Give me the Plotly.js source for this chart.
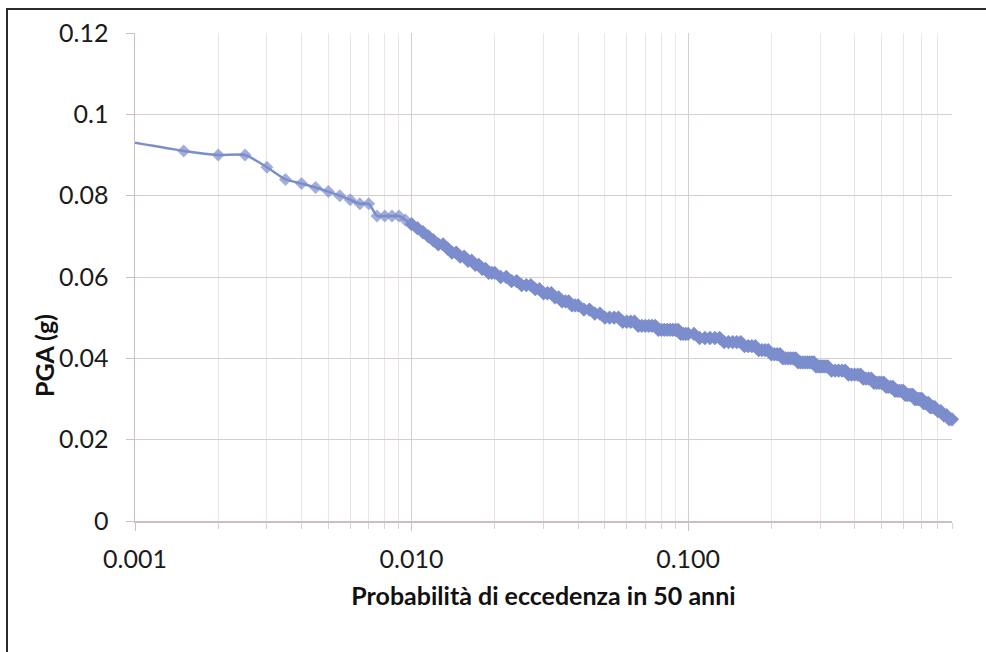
<!DOCTYPE html>
<html>
<head>
<meta charset="utf-8">
<script src="https://cdn.plot.ly/plotly-3.0.1.min.js"></script>
<style>
  html, body { margin: 0; padding: 0; background: #ffffff; }
  #wrap { position: relative; width: 986px; height: 652px; }
  #chart { position: absolute; left: 0; top: 0; width: 986px; height: 652px; }
  #frame { position: absolute; left: 6px; top: 8px; width: 980px; height: 644px;
           border-top: 2px solid #2a2a2a; border-left: 2px solid #2a2a2a;
           box-sizing: border-box; pointer-events: none; }
</style>
</head>
<body>
<div id="wrap">
  <div id="chart"></div>
  <div id="frame"></div>
</div>
<script>
// Probability of exceedance in 50 years (x) and PGA in g (y)
const probability = [
  0.001, 0.0015, 0.002, 0.0025, 0.003, 0.0035, 0.004, 0.0045, 0.005, 0.0055,
  0.006, 0.0065, 0.007, 0.0075, 0.008, 0.0085, 0.009, 0.0095, 0.010, 0.0105,
  0.011, 0.0115, 0.012, 0.0125, 0.013, 0.0135, 0.014, 0.0145, 0.015, 0.0155,
  0.016, 0.0165, 0.017, 0.0175, 0.018, 0.0185, 0.019, 0.0195, 0.020,
  0.021, 0.022, 0.023, 0.024, 0.025, 0.026, 0.027, 0.028, 0.029, 0.030,
  0.031, 0.032, 0.033, 0.034, 0.035, 0.036, 0.037, 0.038, 0.039, 0.040,
  0.042, 0.044, 0.046, 0.048, 0.050, 0.052, 0.054, 0.056, 0.058, 0.060,
  0.062, 0.064, 0.066, 0.068, 0.070, 0.072, 0.074, 0.076, 0.078, 0.080,
  0.082, 0.084, 0.086, 0.088, 0.090, 0.092, 0.094, 0.096, 0.098, 0.100,
  0.105, 0.110, 0.115, 0.120, 0.125, 0.130, 0.135, 0.140, 0.145, 0.150,
  0.155, 0.160, 0.165, 0.170, 0.175, 0.180, 0.185, 0.190, 0.195, 0.200,
  0.205, 0.210, 0.215, 0.220, 0.225, 0.230, 0.235, 0.240, 0.245, 0.250,
  0.255, 0.260, 0.265, 0.270, 0.275, 0.280, 0.285, 0.290, 0.295, 0.300,
  0.305, 0.310, 0.315, 0.320,
  0.33, 0.34, 0.35, 0.36, 0.37, 0.38, 0.39, 0.40, 0.41, 0.42,
  0.43, 0.44, 0.45, 0.46, 0.47, 0.48, 0.49, 0.50, 0.51, 0.52,
  0.53, 0.54, 0.55, 0.56, 0.57, 0.58, 0.59, 0.60, 0.61, 0.62,
  0.63, 0.64, 0.65, 0.66, 0.67, 0.68, 0.69, 0.70, 0.71, 0.72,
  0.73, 0.74, 0.75, 0.76, 0.77, 0.78,
  0.80, 0.82, 0.84, 0.86, 0.88, 0.90
];
const pga = [
  0.093, 0.091, 0.090, 0.090, 0.087, 0.084, 0.083, 0.082, 0.081, 0.080,
  0.079, 0.078, 0.078, 0.075, 0.075, 0.075, 0.075, 0.074, 0.073, 0.072,
  0.071, 0.070, 0.069, 0.068, 0.068, 0.067, 0.066, 0.066, 0.065, 0.065,
  0.064, 0.064, 0.063, 0.063, 0.062, 0.062, 0.061, 0.061, 0.061,
  0.060, 0.060, 0.059, 0.059, 0.058, 0.058, 0.058, 0.057, 0.057, 0.056,
  0.056, 0.056, 0.055, 0.055, 0.054, 0.054, 0.054, 0.053, 0.053, 0.053,
  0.052, 0.052, 0.051, 0.051, 0.050, 0.050, 0.050, 0.050, 0.049, 0.049,
  0.049, 0.049, 0.048, 0.048, 0.048, 0.048, 0.048, 0.048, 0.047, 0.047,
  0.047, 0.047, 0.047, 0.047, 0.047, 0.047, 0.046, 0.046, 0.046, 0.046,
  0.046, 0.045, 0.045, 0.045, 0.045, 0.045, 0.044, 0.044, 0.044, 0.044,
  0.044, 0.043, 0.043, 0.043, 0.043, 0.042, 0.042, 0.042, 0.042, 0.041,
  0.041, 0.041, 0.041, 0.040, 0.040, 0.040, 0.040, 0.040, 0.040, 0.039,
  0.039, 0.039, 0.039, 0.039, 0.039, 0.039, 0.039, 0.038, 0.038, 0.038,
  0.038, 0.038, 0.038, 0.038,
  0.037, 0.037, 0.037, 0.037, 0.037, 0.036, 0.036, 0.036, 0.036, 0.036,
  0.035, 0.035, 0.035, 0.035, 0.034, 0.034, 0.034, 0.034, 0.034, 0.033,
  0.033, 0.033, 0.033, 0.032, 0.032, 0.032, 0.032, 0.032, 0.031, 0.031,
  0.031, 0.031, 0.031, 0.030, 0.030, 0.030, 0.030, 0.030, 0.029, 0.029,
  0.029, 0.029, 0.028, 0.028, 0.028, 0.028,
  0.027, 0.027, 0.026, 0.026, 0.025, 0.025
];
const xMajorTicks = [0.001, 0.01, 0.1];
const xMajorLabels = ['0.001', '0.010', '0.100'];
const xMinorTicks = [0.002, 0.003, 0.004, 0.005, 0.006, 0.007, 0.008, 0.009,
                     0.02, 0.03, 0.04, 0.05, 0.06, 0.07, 0.08, 0.09,
                     0.2, 0.3, 0.4, 0.5, 0.6, 0.7, 0.8, 0.9];
const xTitle = 'Probabilità di eccedenza in 50 anni';
const yTitle = 'PGA (g)';

const lineColor = '#7b8dcc';
// the sparse part (up to 0.010) and the dense part share one point so the curve is continuous
const split = probability.indexOf(0.010);

const sparseTrace = {
  x: probability.slice(0, split + 1),
  y: pga.slice(0, split + 1),
  type: 'scatter',
  mode: 'lines+markers',
  line: { color: lineColor, width: 2.5, shape: 'spline', smoothing: 0.6 },
  marker: { symbol: 'diamond', color: lineColor,
            size: probability.slice(0, split + 1).map((p, i) => i === 0 ? 0 : 10),
            line: { width: 0 } },
  cliponaxis: false,
  hoverinfo: 'skip'
};
const denseTrace = {
  x: probability.slice(split),
  y: pga.slice(split),
  type: 'scatter',
  mode: 'lines+markers',
  line: { color: lineColor, width: 6, shape: 'spline', smoothing: 0.6 },
  marker: { symbol: 'diamond', color: lineColor, size: 11, line: { width: 0 } },
  cliponaxis: false,
  hoverinfo: 'skip'
};

const axisLine = '#cdbfbf';
const tickFont = { family: 'Lato, sans-serif', size: 25, color: '#1b1b1b' };
const titleFont = { family: 'Lato, sans-serif', size: 25, color: '#111111', weight: 'bold' };

const layout = {
  width: 986,
  height: 652,
  margin: { l: 135, r: 34, t: 33, b: 131 },
  paper_bgcolor: '#ffffff',
  plot_bgcolor: '#ffffff',
  showlegend: false,
  xaxis: {
    type: 'log',
    range: [Math.log10(0.001), Math.log10(0.9)],
    tickmode: 'array',
    tickvals: xMajorTicks,
    ticktext: xMajorLabels,
    ticks: 'outside',
    ticklen: 8,
    tickcolor: axisLine,
    tickwidth: 1,
    showline: true,
    linecolor: axisLine,
    linewidth: 1.5,
    showgrid: true,
    gridcolor: '#d9cece',
    gridwidth: 1,
    zeroline: false,
    tickfont: tickFont,
    ticklabelstandoff: 7,
    minor: {
      tickmode: 'array',
      tickvals: xMinorTicks,
      ticks: 'outside',
      ticklen: 6,
      tickcolor: '#ddd3d3',
      showgrid: true,
      gridcolor: '#ebe5e5',
      gridwidth: 1
    },
    title: { text: xTitle, font: titleFont, standoff: 16 },
    automargin: false,
    fixedrange: true
  },
  yaxis: {
    range: [0, 0.12],
    tickmode: 'linear',
    tick0: 0,
    dtick: 0.02,
    ticks: 'outside',
    ticklen: 8,
    tickcolor: axisLine,
    showline: true,
    linecolor: axisLine,
    linewidth: 1.5,
    showgrid: true,
    gridcolor: '#d9cece',
    zeroline: false,
    tickfont: tickFont,
    ticklabelstandoff: 12,
    automargin: false,
    fixedrange: true
  },
  annotations: [{
    text: yTitle,
    font: titleFont,
    textangle: -90,
    xref: 'paper', yref: 'paper',
    x: (44 - 135) / 817, y: (521 - 356) / 488,
    xanchor: 'center', yanchor: 'middle',
    showarrow: false
  }]
};

Plotly.newPlot('chart', [sparseTrace, denseTrace], layout, { staticPlot: true, displayModeBar: false });
</script>
</body>
</html>
